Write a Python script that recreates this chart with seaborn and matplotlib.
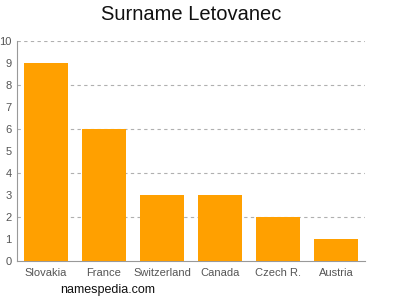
import matplotlib
matplotlib.use("Agg")
import matplotlib.pyplot as plt
import seaborn as sns
import pandas as pd

countries = ["Slovakia", "France", "Switzerland", "Canada", "Czech R.", "Austria"]
counts = [9, 6, 3, 3, 2, 1]
yticks = list(range(0, 11))

sns.set_style("white")
plt.rcParams['font.family'] = ['Liberation Sans', 'DejaVu Sans']

df = pd.DataFrame({"country": countries, "count": counts})

fig = plt.figure(figsize=(4, 3), dpi=100)
ax = fig.add_axes([0.0425, 0.13, 0.87, 0.7333])
sns.barplot(data=df, x="country", y="count", color="#FFA000", saturation=1,
            width=0.75, ax=ax, zorder=3, edgecolor="none", linewidth=0)
ax.set_xlim(-0.5, 5.5)
ax.set_ylim(0, 10)
ax.set_yticks(yticks)
for v in range(2, 11, 2):
    ax.axhline(v, color="#b0b0b0", linestyle=(0, (3, 3)), linewidth=0.8, zorder=1)
ax.set_xlabel("")
ax.set_ylabel("")
for s in ["top", "right"]:
    ax.spines[s].set_visible(False)
for s in ["left", "bottom"]:
    ax.spines[s].set_color("#999999")
    ax.spines[s].set_linewidth(0.8)
ax.tick_params(axis="both", colors="#999999", labelcolor="#555555", labelsize=8,
               length=3, width=0.8, pad=1)
ax.tick_params(axis="x", pad=2)
fig.suptitle("Surname Letovanec", x=0.478, y=0.985, fontsize=14.5, color="#111111")
fig.text(0.15, 0.025, "namespedia.com", fontsize=9, color="#111111")
fig.savefig("out.png", dpi=100)
